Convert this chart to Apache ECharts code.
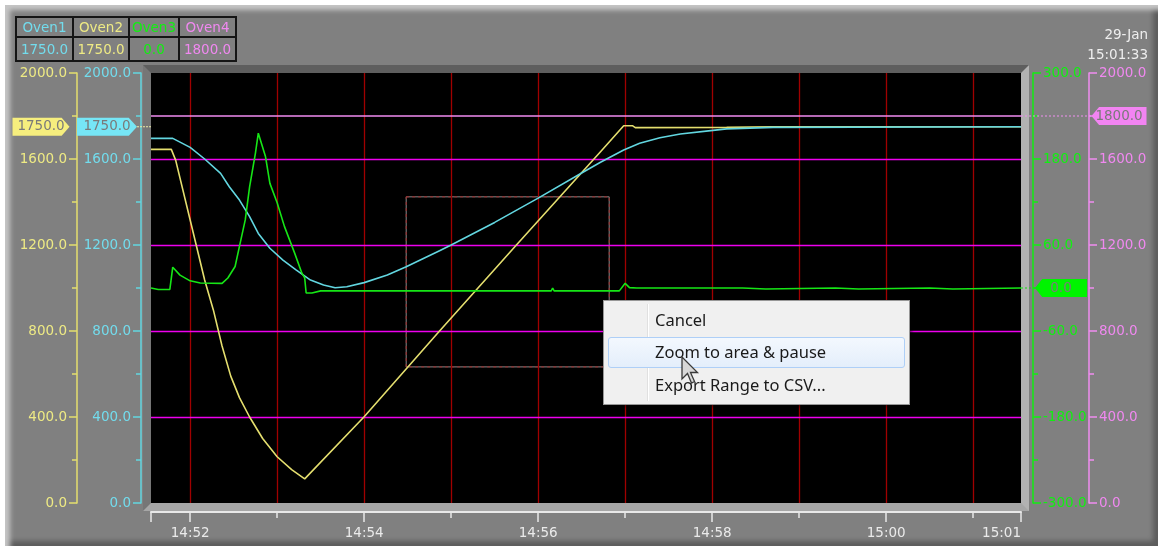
<!DOCTYPE html>
<html>
<head>
<meta charset="utf-8">
<script src="https://cdn.jsdelivr.net/npm/echarts@6/dist/echarts.min.js"></script>
<style>
html,body{margin:0;padding:0;width:1158px;height:546px;overflow:hidden;background:#ffffff;}
#panel{position:absolute;left:5px;top:5px;width:1153px;height:541px;background:#808080;
  box-shadow:inset 5px 5px 5px #c6c6c6, inset -5px -5px 5px #5c5c5c;}
#frame{position:absolute;left:143px;top:65px;width:870px;height:430px;border-style:solid;border-width:8px;
  border-color:#5e5e5e #b2b2b2 #a6a6a6 #767676;background:#000;}
#chart{position:absolute;left:0;top:0;width:1158px;height:546px;}
#legend{position:absolute;left:15px;top:16px;border-collapse:collapse;font-family:'DejaVu Sans';font-size:13.5px;}
#legend td{border:2px solid #151515;text-align:center;padding:0;}
#legend tr.h td{height:18px;}
#legend tr.v td{height:22px;}
#stamp{position:absolute;right:10px;top:24px;text-align:right;color:#eeeeee;font-family:'DejaVu Sans';font-size:13.5px;line-height:20px;}
#menu{position:absolute;left:603px;top:300px;width:305px;height:103px;background:#f0f0f0;border:1px solid #979797;
  box-shadow:2px 2px 3px rgba(0,0,0,0.45);font-family:'Noto Sans';font-size:16.5px;color:#1a1a1a;}
#menu .sep{position:absolute;left:43px;top:3px;bottom:3px;width:1px;background:#e0e0e0;border-right:1px solid #ffffff;}
#menu .hl{position:absolute;left:4px;top:36px;width:295px;height:29px;border:1px solid #aecff7;border-radius:3px;
  background:linear-gradient(#f3f8fe,#e4eefb);}
#menu .it{position:absolute;left:51px;line-height:22px;white-space:nowrap;}
#cursor{position:absolute;left:681px;top:356px;}
</style>
</head>
<body>
<div id="panel"></div>
<div id="frame"></div>
<div id="chart"></div>
<table id="legend">
  <tr class="h"><td id="n1" style="width:55px"></td><td id="n2" style="width:54px"></td><td id="n3" style="width:48px"></td><td id="n4" style="width:55px"></td></tr>
  <tr class="v"><td id="v1"></td><td id="v2"></td><td id="v3"></td><td id="v4"></td></tr>
</table>
<div id="stamp"><div id="dateTxt"></div><div id="timeTxt"></div></div>
<div id="menu">
  <div class="sep"></div>
  <div class="hl"></div>
  <div class="it" style="top:8px">Cancel</div>
  <div class="it" style="top:40px">Zoom to area &amp; pause</div>
  <div class="it" style="top:73px">Export Range to CSV...</div>
</div>
<svg id="cursor" width="20" height="30" viewBox="0 0 20 30">
  <path d="M1,1 L1,23 L6.5,17.5 L10.5,27 L13.5,25.5 L9.5,16.5 L16.5,16.5 Z" fill="#d8d8d8" stroke="#3a3a3a" stroke-width="1.3"/>
</svg>
<script>
// ---------------- data ----------------
const seriesNames = ['Oven1', 'Oven2', 'Oven3', 'Oven4'];
const stampDate = '29-Jan';
const stampTime = '15:01:33';
const windowStart = '14:51:33';
const windowEnd = '15:01:33';

const minuteTicks = ['14:52', '14:53', '14:54', '14:55', '14:56', '14:57', '14:58', '14:59', '15:00', '15:01'];
const majorTicks = ['14:51:33', '14:52', '14:54', '14:56', '14:58', '15:00', '15:01:33'];
const timeLabels = ['14:52', '14:54', '14:56', '14:58', '15:00', '15:01:33'];
const gridLevels = [400, 800, 1200, 1600];

const oven1Times = ['14:51:33','14:51:48','14:52:00','14:52:10','14:52:21','14:52:27','14:52:34','14:52:41','14:52:47','14:52:55','14:53:04','14:53:13','14:53:23','14:53:32','14:53:40','14:53:48','14:54:00','14:54:16','14:54:29','14:54:52','14:55:00','14:55:30','14:56:00','14:56:30','14:56:43','14:56:59','14:57:10','14:57:24','14:57:38','14:57:59','14:58:10','14:58:42','15:01:33'];
const oven1Values = [1696,1696,1654,1600,1533,1471,1409,1332,1254,1185,1130,1084,1037,1014,1001,1006,1025,1060,1099,1173,1200,1305,1418,1535,1585,1642,1673,1699,1716,1732,1740,1747,1750];

const oven2Times = ['14:51:33','14:51:47','14:51:50','14:52:00','14:52:10','14:52:16','14:52:22','14:52:28','14:52:34','14:52:41','14:52:50','14:53:00','14:53:10','14:53:19','14:54:00','14:54:52','14:55:45','14:56:43','14:56:59','14:57:05','14:57:07','14:58:10','14:58:42','15:01:33'];
const oven2Values = [1645,1645,1595,1316,1037,898,730,590,490,400,300,215,155,112,401,800,1200,1634,1755,1755,1746,1747,1750,1750];

const oven3Times = ['14:51:33','14:51:38','14:51:46','14:51:48','14:51:53','14:52:00','14:52:07','14:52:22','14:52:26','14:52:31','14:52:34','14:52:38','14:52:41','14:52:45','14:52:47','14:52:52','14:52:55','14:53:00','14:53:05','14:53:12','14:53:17','14:53:19','14:53:20','14:53:24','14:53:30','14:56:09','14:56:10','14:56:11','14:56:56','14:57:00','14:57:03','14:57:08','14:58:21','14:58:22','14:58:37','14:58:38','14:59:25','14:59:26','14:59:41','14:59:42','15:00:30','15:00:31','15:00:46','15:00:47','15:01:33'];
const oven3Values = [0,-2,-2,29,18,10,7,6.5,14,30,58,95,141,188,216,183,146,119,86,49,21,14,-7,-7,-4,-4,0,-4,-4,6.5,0.5,0,0,-1.5,-1.5,0,0,-1.5,-1.5,0,0,-1.5,-1.5,0,0];

const oven4Times = ['14:51:33', '15:01:33'];
const oven4Values = [1800, 1800];

// dashed zoom-selection rectangle: [start time, end time, low value, high value] on the 0-2000 scale
const selectionBox = ['14:54:29', '14:56:49', 633, 1424];

// ---------------- helpers ----------------
const toSec = s => { const p = s.split(':').map(Number); return p[0] * 3600 + p[1] * 60 + (p[2] || 0); };
const pairs = (ts, vs) => ts.map((t, i) => [toSec(t), vs[i]]);
const hhmm = v => { const h = Math.floor(v / 3600), m = Math.floor((v % 3600) / 60); return h + ':' + String(m).padStart(2, '0'); };
const FONT = 'DejaVu Sans';
const FS = 13.5;
const T0 = toSec(windowStart), T1 = toSec(windowEnd);

const C = {
  o1: '#62d6e0', o1t: '#72dced',
  o2: '#e4de6e', o2t: '#eeea84',
  o3: '#16e616', o3t: '#10f010',
  o4: '#f08cf0', o4t: '#f088f0',
  grid: '#ee00ee', vgrid: '#a00000', axisX: '#e8e8e8'
};

// legend table + timestamp
const lastVals = [oven1Values, oven2Values, oven3Values, oven4Values].map(a => a[a.length - 1]);
const legCols = [C.o1t, C.o2t, C.o3t, C.o4t];
seriesNames.forEach((n, i) => {
  const a = document.getElementById('n' + (i + 1)); a.textContent = n; a.style.color = legCols[i];
  const b = document.getElementById('v' + (i + 1)); b.textContent = lastVals[i].toFixed(1); b.style.color = legCols[i];
});
document.getElementById('dateTxt').textContent = stampDate;
document.getElementById('timeTxt').textContent = stampTime;

function yAxisDef(color, labelColor, position, offset, min, max, interval) {
  return {
    type: 'value', position, offset, min, max, interval,
    axisLine: { show: true, onZero: false, lineStyle: { color, width: 1.5 } },
    axisTick: { show: true, length: 8, lineStyle: { color, width: 1.5 } },
    minorTick: { show: true, splitNumber: 2, length: 5, lineStyle: { color, width: 1.5 } },
    axisLabel: { color: labelColor, fontFamily: FONT, fontSize: FS, margin: 10, formatter: v => v.toFixed(1) },
    splitLine: { show: false },
    minorSplitLine: { show: false }
  };
}

function tag(yIdx, xVal, value, color, path, size, offX) {
  return {
    type: 'scatter', xAxisIndex: 0, yAxisIndex: yIdx, data: [[xVal, value]],
    symbol: path, symbolSize: size, symbolOffset: [offX, 0], clip: false, silent: true, z: 10,
    itemStyle: { color, opacity: 1 },
    label: { show: true, position: 'inside', formatter: p => p.value[1].toFixed(1), color: '#7a7a7a', fontFamily: FONT, fontSize: FS }
  };
}
const rightArrow = 'path://M0,0H50L58,9L50,18H0Z';
const leftArrow = 'path://M8,0H58V18H8L0,9Z';

const line = (name, yIdx, data, color, extra) => Object.assign({
  name, type: 'line', xAxisIndex: 0, yAxisIndex: yIdx, data, showSymbol: false, symbol: 'none',
  lineStyle: { color, width: 1.6 }, itemStyle: { color }, silent: true, z: 3
}, extra || {});

const chart = echarts.init(document.getElementById('chart'), null, { renderer: 'canvas' });

// grid lines (drawn as mark lines from the tick arrays, underneath the traces)
const gridSeries = {
  name: 'grid', type: 'line', xAxisIndex: 0, yAxisIndex: 0, data: [], silent: true, z: 1,
  markLine: {
    silent: true, symbol: ['none', 'none'], label: { show: false }, z: 1, animation: false,
    data: minuteTicks.map(t => ({ xAxis: toSec(t), lineStyle: { color: C.vgrid, width: 1.3, type: 'solid' } }))
      .concat(gridLevels.map(v => ({ yAxis: v, lineStyle: { color: C.grid, width: 1.3, type: 'solid' } })))
  }
};

const cyan = line(seriesNames[0], 0, pairs(oven1Times, oven1Values), C.o1);
cyan.markArea = {
  silent: true,
  data: [
    [{ xAxis: toSec(selectionBox[0]), yAxis: selectionBox[3], itemStyle: { color: 'rgba(0,0,0,0)', borderColor: '#8a8a8a', borderWidth: 1, borderType: 'solid' } },
     { xAxis: toSec(selectionBox[1]), yAxis: selectionBox[2] }],
    [{ xAxis: toSec(selectionBox[0]), yAxis: selectionBox[3], itemStyle: { color: 'rgba(0,0,0,0)', borderColor: '#a02828', borderWidth: 1, borderType: [3, 3] } },
     { xAxis: toSec(selectionBox[1]), yAxis: selectionBox[2] }]
  ]
};

const option = {
  animation: false,
  backgroundColor: 'transparent',
  grid: { left: 151, right: 137, top: 73, bottom: 43, show: true, backgroundColor: '#000', borderWidth: 0, containLabel: false },
  xAxis: [
    {
      type: 'value', min: T0, max: T1, position: 'bottom', offset: 9,
      axisLine: { show: true, onZero: false, lineStyle: { color: C.axisX, width: 2 } },
      axisTick: { show: true, length: 6, customValues: minuteTicks.map(toSec), lineStyle: { color: C.axisX, width: 1.5 } },
      axisLabel: { show: false },
      splitLine: { show: false }
    },
    {
      type: 'value', min: T0, max: T1, position: 'bottom', offset: 9,
      axisLine: { show: false, onZero: false },
      axisTick: { show: true, length: 10, customValues: majorTicks.map(toSec), lineStyle: { color: C.axisX, width: 1.5 } },
      axisLabel: { show: true, customValues: timeLabels.map(toSec), formatter: v => hhmm(v), color: '#eaeaea', fontFamily: FONT, fontSize: FS, margin: 14, alignMaxLabel: 'right' },
      splitLine: { show: false }
    }
  ],
  yAxis: [
    yAxisDef(C.o1, C.o1t, 'left', 10, 0, 2000, 400),
    yAxisDef(C.o2, C.o2t, 'left', 74, 0, 2000, 400),
    yAxisDef('#10ee10', C.o3t, 'right', 12, -300, 300, 120),
    yAxisDef(C.o4, C.o4t, 'right', 68, 0, 2000, 400)
  ],
  series: [
    gridSeries,
    line(seriesNames[3], 3, pairs(oven4Times, oven4Values), C.o4),
    line(seriesNames[1], 1, pairs(oven2Times, oven2Values), C.o2),
    cyan,
    line(seriesNames[2], 2, pairs(oven3Times, oven3Values), C.o3),
    tag(1, T0, lastVals[1], '#f6ee7e', rightArrow, [57, 18], -110),
    tag(0, T0, lastVals[0], '#76e6f6', rightArrow, [60, 18], -44),
    tag(2, T1, lastVals[2], '#00f400', leftArrow, [52, 18], 40),
    tag(3, T1, lastVals[3], '#f284f2', leftArrow, [55, 18], 98)
  ]
};
chart.setOption(option);

// dotted leader lines from the plot edge to the value tags, positioned via the chart's own scales
const xL = chart.convertToPixel({ xAxisIndex: 0 }, T0);
const xR = chart.convertToPixel({ xAxisIndex: 0 }, T1);
const y1 = chart.convertToPixel({ yAxisIndex: 0 }, lastVals[0]);
const y3 = chart.convertToPixel({ yAxisIndex: 2 }, lastVals[2]);
const y4 = chart.convertToPixel({ yAxisIndex: 3 }, lastVals[3]);
chart.setOption({
  graphic: [
    { type: 'line', shape: { x1: xL - 14, y1: y1, x2: xL, y2: y1 }, style: { stroke: '#eeeeaa', lineWidth: 1, lineDash: [2, 1] }, z: 5, silent: true },
    { type: 'line', shape: { x1: xR, y1: y3, x2: xR + 14, y2: y3 }, style: { stroke: '#10e010', lineWidth: 1, lineDash: [2, 2] }, z: 5, silent: true },
    { type: 'line', shape: { x1: xR, y1: y4, x2: xR + 70, y2: y4 }, style: { stroke: '#f090f0', lineWidth: 1, lineDash: [2, 2] }, z: 5, silent: true }
  ]
});
</script>
</body>
</html>
